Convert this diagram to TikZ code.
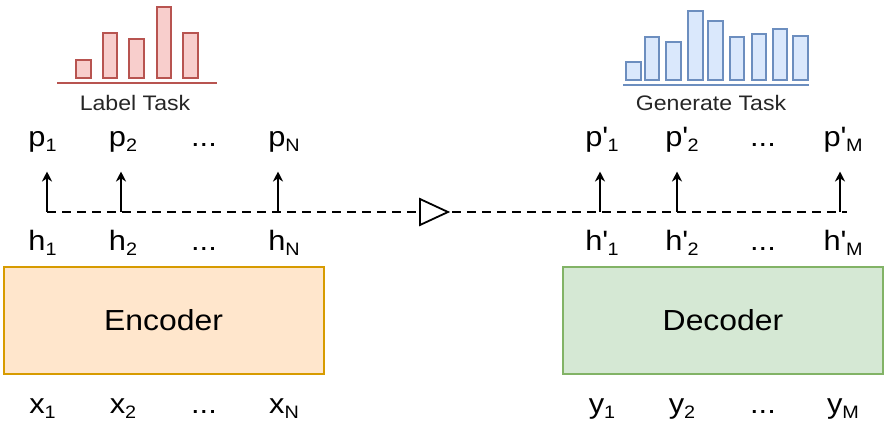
\documentclass[tikz,border=0pt]{standalone}
\usepackage{fontspec}
\setmainfont{Liberation Sans}[FakeStretch=1.1]
\usetikzlibrary{arrows.meta}
\definecolor{encfill}{HTML}{FFE6CC}\definecolor{encline}{HTML}{D79B00}
\definecolor{decfill}{HTML}{D5E8D4}\definecolor{decline}{HTML}{82B366}
\definecolor{redfill}{HTML}{F8CECC}\definecolor{redline}{HTML}{B85450}
\definecolor{bluefill}{HTML}{DAE8FC}\definecolor{blueline}{HTML}{6C8EBF}
\newcommand{\lowsub}[1]{\raisebox{-5pt}{\fontsize{18}{18}\selectfont #1}}
\newcommand{\pr}{\textquotesingle}

\begin{document}
\begin{tikzpicture}[>={Stealth[length=10pt,width=10pt]},x=1pt,y=-1pt,
  lab/.style={anchor=base,inner sep=0pt,font=\fontsize{28}{30}\selectfont},
  task/.style={anchor=base,inner sep=0pt,text=black!85,font=\fontsize{21}{23}\selectfont},
  block/.style={draw,line width=2pt,minimum width=320pt,minimum height=107pt,font=\fontsize{29}{31}\selectfont}]
  \useasboundingbox (0,0) rectangle (894,424);
  % encoder and decoder blocks
  \node[block,fill=encfill,draw=encline] (enc) at (163.5,320.5) {Encoder};
  \node[block,fill=decfill,draw=decline] (dec) at (723,320.5) {Decoder};
  % inputs
  \node[lab] (x1) at (42.5,413) {x\lowsub{1}};
  \node[lab] (x2) at (123,413) {x\lowsub{2}};
  \node[lab] (xd) at (204,413) {...};
  \node[lab] (xn) at (284,413) {x\lowsub{N}};
  \node[lab] (y1) at (602,413) {y\lowsub{1}};
  \node[lab] (y2) at (682,413) {y\lowsub{2}};
  \node[lab] (yd) at (763,413) {...};
  \node[lab] (ym) at (843,413) {y\lowsub{M}};
  % hidden states
  \node[lab] (h1) at (42.5,250) {h\lowsub{1}};
  \node[lab] (h2) at (123,250) {h\lowsub{2}};
  \node[lab] (hd) at (204,250) {...};
  \node[lab] (hn) at (284,250) {h\lowsub{N}};
  \node[lab] (g1) at (602,250) {h\pr\lowsub{1}};
  \node[lab] (g2) at (682,250) {h\pr\lowsub{2}};
  \node[lab] (gd) at (763,250) {...};
  \node[lab] (gm) at (843,250) {h\pr\lowsub{M}};
  % outputs
  \node[lab] (p1) at (42.5,146.5) {p\lowsub{1}};
  \node[lab] (p2) at (123,146.5) {p\lowsub{2}};
  \node[lab] (pd) at (204,146.5) {...};
  \node[lab] (pn) at (284,146.5) {p\lowsub{N}};
  \node[lab] (q1) at (602,146.5) {p\pr\lowsub{1}};
  \node[lab] (q2) at (682,146.5) {p\pr\lowsub{2}};
  \node[lab] (qd) at (763,146.5) {...};
  \node[lab] (qm) at (843,146.5) {p\pr\lowsub{M}};
  % dashed state line with the open triangle in the middle
  \coordinate (d1) at (47,212);\coordinate (d2) at (121,212);\coordinate (dn) at (278,212);
  \coordinate (e1) at (600,212);\coordinate (e2) at (677,212);\coordinate (em) at (840,212);
  \coordinate (dend) at (847,212);
  \draw[dashed,dash pattern=on 9pt off 6pt,line width=1.8pt] (d1) -- (dend);
  \draw[fill=white,line width=1.8pt,line join=miter] (420,199) -- (448,212) -- (420,225) -- cycle;
  % up arrows to the outputs
  \draw[->,line width=1.8pt,shorten >=19pt] (d1) -- (d1 |- p1.south);
  \draw[->,line width=1.8pt,shorten >=19pt] (d2) -- (d2 |- p2.south);
  \draw[->,line width=1.8pt,shorten >=19pt] (dn) -- (dn |- pn.south);
  \draw[->,line width=1.8pt,shorten >=19pt] (e1) -- (e1 |- q1.south);
  \draw[->,line width=1.8pt,shorten >=19pt] (e2) -- (e2 |- q2.south);
  \draw[->,line width=1.8pt,shorten >=19pt] (em) -- (em |- qm.south);
  % label task histogram
  \foreach \l/\r/\t in {76/91/60,103/117/33,129/144/39,157/171/7,183/198/33}
    \draw[fill=redfill,draw=redline,line width=2pt] (\l,78) rectangle (\r,\t);
  \draw[redline,line width=2pt] (57,83) -- (217,83);
  \node[task] (lt) at (135,110) {Label Task};
  % generate task histogram
  \foreach \l/\r/\t in {626/641/62,645/659/37,666/681/42,688/703/11,708/723/21,730/744/37,752/766/34,773/787/29,793/808/36}
    \draw[fill=bluefill,draw=blueline,line width=2pt] (\l,80) rectangle (\r,\t);
  \draw[blueline,line width=2pt] (623,85) -- (809,85);
  \node[task] (gt) at (711,110) {Generate Task};
\end{tikzpicture}
\end{document}
